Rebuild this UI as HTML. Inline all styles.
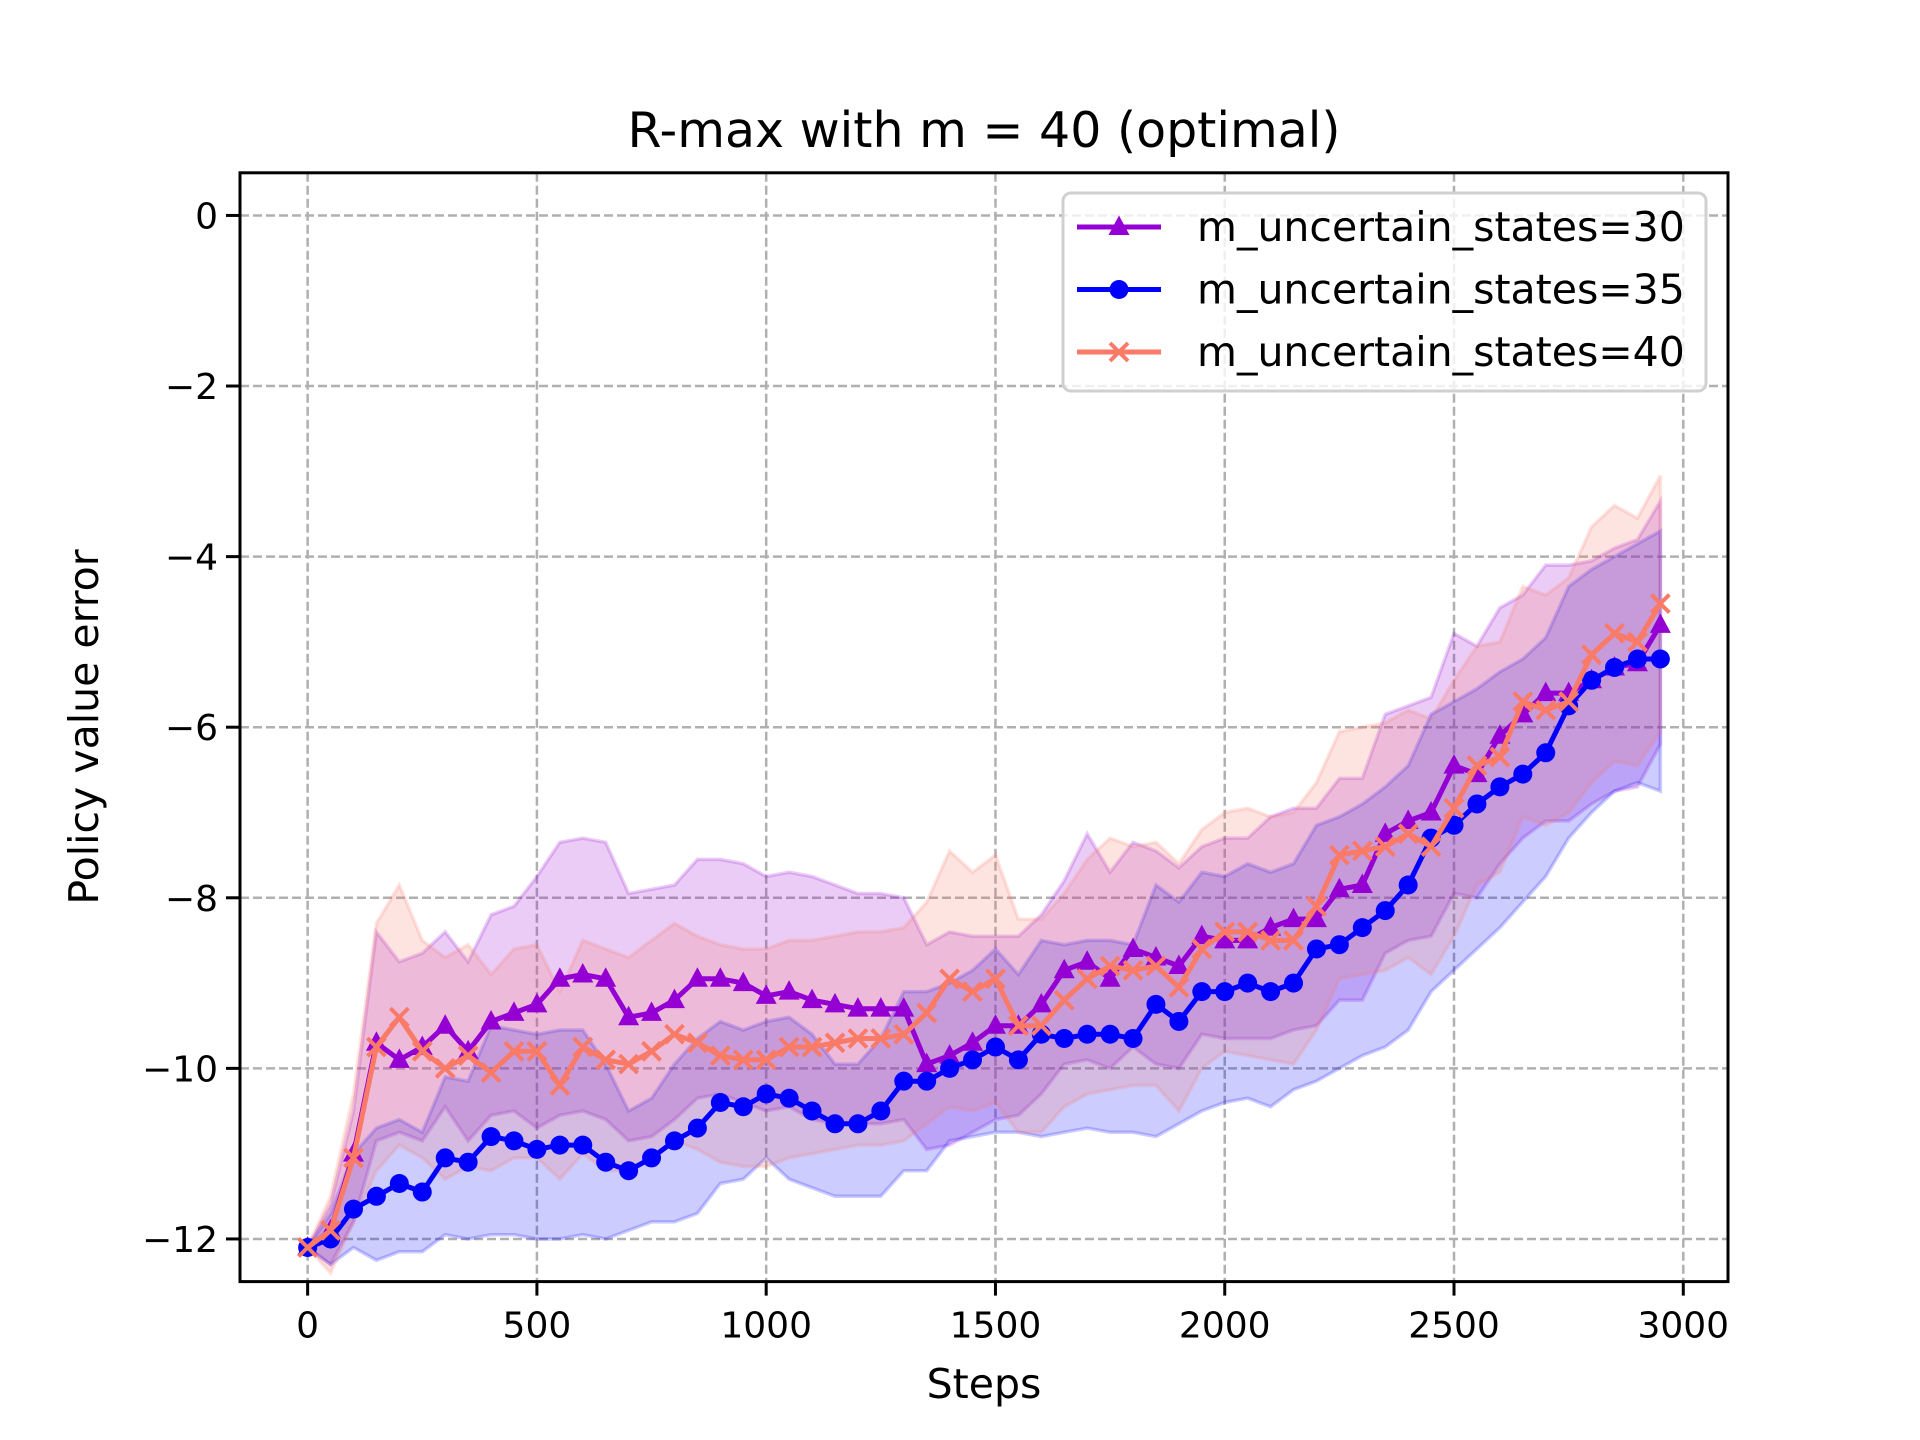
<!DOCTYPE html>
<html><head><meta charset="utf-8"><style>
html,body{margin:0;padding:0;background:#fff;}
svg{display:block;font-family:"DejaVu Sans","Liberation Sans",sans-serif;}
</style></head><body>
<svg id="chart" width="1920" height="1440" viewBox="0 0 1920 1440" xmlns="http://www.w3.org/2000/svg"></svg>
<script>
const steps = Array.from({length:60},(_,i)=>i*50);
const m30Mean = [-12.1,-11.9,-11.0,-9.7,-9.9,-9.75,-9.5,-9.8,-9.45,-9.35,-9.25,-8.95,-8.9,-8.95,-9.4,-9.35,-9.2,-8.95,-8.95,-9.0,-9.15,-9.1,-9.2,-9.25,-9.3,-9.3,-9.3,-9.95,-9.85,-9.7,-9.5,-9.5,-9.25,-8.85,-8.75,-8.95,-8.6,-8.7,-8.8,-8.45,-8.5,-8.5,-8.35,-8.25,-8.25,-7.9,-7.85,-7.25,-7.1,-7.0,-6.45,-6.55,-6.1,-5.85,-5.6,-5.6,-5.45,-5.3,-5.25,-4.8];
const m30Upper = [-12.1,-11.6,-10.5,-8.4,-8.75,-8.65,-8.4,-8.75,-8.2,-8.1,-7.75,-7.35,-7.3,-7.35,-7.95,-7.9,-7.85,-7.55,-7.55,-7.6,-7.75,-7.7,-7.75,-7.85,-7.95,-7.95,-8.0,-8.55,-8.4,-8.45,-8.45,-8.45,-8.2,-7.8,-7.25,-7.7,-7.35,-7.45,-7.65,-7.4,-7.3,-7.3,-7.05,-6.95,-6.95,-6.6,-6.6,-5.85,-5.75,-5.65,-4.9,-5.05,-4.6,-4.45,-4.1,-4.1,-4.05,-3.9,-3.8,-3.35];
const m30Lower = [-12.1,-12.3,-11.8,-10.85,-10.75,-10.85,-10.45,-10.85,-10.55,-10.5,-10.7,-10.55,-10.5,-10.6,-10.85,-10.8,-10.6,-10.35,-10.3,-10.4,-10.5,-10.45,-10.6,-10.65,-10.65,-10.65,-10.6,-10.95,-10.9,-10.75,-10.6,-10.55,-10.3,-9.95,-9.9,-10.0,-9.75,-9.95,-10.0,-9.6,-9.65,-9.65,-9.65,-9.55,-9.5,-9.2,-9.2,-8.65,-8.5,-8.45,-7.95,-8.0,-7.6,-7.3,-7.1,-7.1,-6.9,-6.75,-6.7,-6.2];
const m35Mean = [-12.1,-12.0,-11.65,-11.5,-11.35,-11.45,-11.05,-11.1,-10.8,-10.85,-10.95,-10.9,-10.9,-11.1,-11.2,-11.05,-10.85,-10.7,-10.4,-10.45,-10.3,-10.35,-10.5,-10.65,-10.65,-10.5,-10.15,-10.15,-10.0,-9.9,-9.75,-9.9,-9.6,-9.65,-9.6,-9.6,-9.65,-9.25,-9.45,-9.1,-9.1,-9.0,-9.1,-9.0,-8.6,-8.55,-8.35,-8.15,-7.85,-7.3,-7.15,-6.9,-6.7,-6.55,-6.3,-5.75,-5.45,-5.3,-5.2,-5.2];
const m35Upper = [-12.1,-11.7,-11.0,-10.7,-10.6,-10.75,-10.1,-10.15,-9.5,-9.55,-9.6,-9.55,-9.55,-9.95,-10.5,-10.35,-9.95,-9.65,-9.45,-9.55,-9.45,-9.4,-9.6,-9.95,-9.95,-9.65,-9.1,-9.1,-9.0,-8.85,-8.6,-8.9,-8.5,-8.55,-8.5,-8.5,-8.55,-7.85,-8.05,-7.7,-7.75,-7.6,-7.7,-7.6,-7.15,-7.05,-6.9,-6.7,-6.45,-5.85,-5.7,-5.55,-5.35,-5.2,-4.95,-4.35,-4.15,-4.0,-3.85,-3.7];
const m35Lower = [-12.1,-12.3,-12.1,-12.25,-12.15,-12.15,-11.95,-12.0,-11.95,-11.95,-12.0,-12.0,-11.95,-12.0,-11.9,-11.8,-11.8,-11.7,-11.35,-11.3,-11.05,-11.3,-11.4,-11.5,-11.5,-11.5,-11.2,-11.2,-10.85,-10.8,-10.75,-10.75,-10.8,-10.75,-10.7,-10.75,-10.75,-10.8,-10.65,-10.5,-10.4,-10.35,-10.45,-10.25,-10.15,-10.0,-9.85,-9.75,-9.55,-9.1,-8.85,-8.6,-8.35,-8.05,-7.75,-7.3,-7.0,-6.75,-6.65,-6.75];
const m40Mean = [-12.1,-11.9,-11.05,-9.75,-9.4,-9.8,-10.0,-9.85,-10.05,-9.8,-9.8,-10.2,-9.75,-9.9,-9.95,-9.8,-9.6,-9.7,-9.85,-9.9,-9.9,-9.75,-9.75,-9.7,-9.65,-9.65,-9.6,-9.35,-8.95,-9.1,-8.95,-9.5,-9.5,-9.2,-8.95,-8.8,-8.85,-8.8,-9.05,-8.6,-8.4,-8.4,-8.5,-8.5,-8.1,-7.5,-7.45,-7.4,-7.25,-7.4,-6.95,-6.45,-6.35,-5.7,-5.8,-5.7,-5.15,-4.9,-5.0,-4.55];
const m40Upper = [-12.1,-11.5,-10.3,-8.3,-7.85,-8.5,-8.7,-8.55,-8.9,-8.6,-8.55,-9.1,-8.5,-8.6,-8.7,-8.5,-8.3,-8.45,-8.55,-8.6,-8.6,-8.5,-8.5,-8.45,-8.4,-8.4,-8.35,-8.05,-7.45,-7.7,-7.5,-8.25,-8.25,-7.95,-7.55,-7.3,-7.4,-7.35,-7.6,-7.2,-7.0,-6.95,-7.05,-7.0,-6.65,-6.05,-6.0,-5.95,-5.8,-5.9,-5.45,-5.05,-5.0,-4.35,-4.45,-4.25,-3.65,-3.4,-3.55,-3.05];
const m40Lower = [-12.1,-12.4,-11.8,-11.2,-10.9,-11.05,-11.3,-11.15,-11.2,-11.05,-11.05,-11.3,-11.0,-11.2,-11.2,-11.05,-10.85,-10.95,-11.1,-11.15,-11.15,-11.05,-11.0,-10.95,-10.9,-10.9,-10.85,-10.65,-10.45,-10.5,-10.4,-10.75,-10.75,-10.45,-10.3,-10.25,-10.2,-10.2,-10.5,-10.0,-9.8,-9.85,-9.9,-9.95,-9.55,-8.95,-8.9,-8.85,-8.7,-8.9,-8.45,-7.85,-7.7,-7.05,-7.15,-7.0,-6.65,-6.4,-6.45,-6.05];
const xTicks = [0,500,1000,1500,2000,2500,3000];
const yTicks = [0,-2,-4,-6,-8,-10,-12];
const seriesLabels = ["m_uncertain_states=30","m_uncertain_states=35","m_uncertain_states=40"];

const NS="http://www.w3.org/2000/svg";
const svg=document.getElementById('chart');
const L=240,R=1728,T=172.8,B=1281.6;
const X0=-147.5,X1=3097.5,Y0=-12.5,Y1=0.5;
const xs=v=>L+(v-X0)/(X1-X0)*(R-L);
const ys=v=>B-(v-Y0)/(Y1-Y0)*(B-T);
function mk(tag,attrs,parent){const e=document.createElementNS(NS,tag);for(const k in attrs)e.setAttribute(k,attrs[k]);(parent||svg).appendChild(e);return e;}

let t=mk('text',{x:984,y:147,'text-anchor':'middle','font-size':'49'});t.textContent='R-max with m = 40 (optimal)';


t=mk('text',{x:984,y:1398,'text-anchor':'middle','font-size':'41'});t.textContent='Steps';


t=mk('text',{x:98,y:727,'text-anchor':'middle','font-size':'41',transform:'rotate(-90 98 727)'});t.textContent='Policy value error';



const grid=mk('g',{stroke:'#b0b0b0','stroke-width':2.5,'stroke-dasharray':'9,4'});


xTicks.forEach(v=>{mk('line',{x1:xs(v),x2:xs(v),y1:T,y2:B},grid);});
yTicks.forEach(v=>{mk('line',{x1:L,x2:R,y1:ys(v),y2:ys(v)},grid);});

const tk=mk('g',{'font-size':'36',fill:'#000'});


xTicks.forEach(v=>{mk('line',{x1:xs(v),x2:xs(v),y1:B,y2:B+14,stroke:'#000','stroke-width':3},tk);
 const e=mk('text',{x:xs(v),y:B+56,'text-anchor':'middle'},tk);e.textContent=String(v);
 
 });
yTicks.forEach(v=>{mk('line',{x1:L-14,x2:L,y1:ys(v),y2:ys(v),stroke:'#000','stroke-width':3},tk);
 const e=mk('text',{x:L-22,y:ys(v)+13,'text-anchor':'end'},tk);e.textContent=(v<0?'\u2212'+Math.abs(v):String(v));
 
 });

const series=[
 {mean:m30Mean,up:m30Upper,lo:m30Lower,color:'#9400d3',marker:'tri',name:'series-m30'},
 {mean:m35Mean,up:m35Upper,lo:m35Lower,color:'#0000ff',marker:'circle',name:'series-m35'},
 {mean:m40Mean,up:m40Upper,lo:m40Lower,color:'#fa7a68',marker:'x',name:'series-m40'}
];
series.forEach(s=>{
 let d='M'+steps.map((x,i)=>xs(x).toFixed(1)+','+ys(s.up[i]).toFixed(1)).join('L');
 d+='L'+steps.map((x,i)=>[x,i]).reverse().map(([x,i])=>xs(x).toFixed(1)+','+ys(s.lo[i]).toFixed(1)).join('L')+'Z';
 const p=mk('path',{d:d,fill:s.color,'fill-opacity':0.2,stroke:s.color,'stroke-opacity':0.2,'stroke-width':3.5});
 
 
});
function marker(g,type,cx,cy,color){
 if(type==='circle')mk('circle',{cx:cx,cy:cy,r:9.5,fill:color},g);
 else if(type==='tri')mk('polygon',{points:`${cx},${cy-11.5} ${cx-10.5},${cy+8} ${cx+10.5},${cy+8}`,fill:color},g);
 else {const r=9;mk('path',{d:`M${cx-r},${cy-r}L${cx+r},${cy+r}M${cx-r},${cy+r}L${cx+r},${cy-r}`,stroke:color,'stroke-width':4},g);}
}
series.forEach(s=>{
 const g=mk('g',{});
 
 
 mk('polyline',{points:steps.map((x,i)=>xs(x).toFixed(1)+','+ys(s.mean[i]).toFixed(1)).join(' '),fill:'none',stroke:s.color,'stroke-width':5,'stroke-linejoin':'round'},g);
 steps.forEach((x,i)=>marker(g,s.marker,xs(x),ys(s.mean[i]),s.color));
});

const fr=mk('rect',{x:L,y:T,width:R-L,height:B-T,fill:'none',stroke:'#000','stroke-width':3});



const lg=mk('g',{});


mk('rect',{x:1063,y:193,width:643,height:198,rx:8,fill:'#fff','fill-opacity':0.8,stroke:'#d0d0d0','stroke-width':3},lg);
series.forEach((s,i)=>{
 const y=227+i*62.5;
 const e=mk('g',{},lg);
 
 
 mk('line',{x1:1077,x2:1161,y1:y,y2:y,stroke:s.color,'stroke-width':5},e);
 marker(e,s.marker,1119,y,s.color);
 const tx=mk('text',{x:1197,y:y+14,'font-size':'41'},e);tx.textContent=seriesLabels[i];
});
</script>
</body></html>
